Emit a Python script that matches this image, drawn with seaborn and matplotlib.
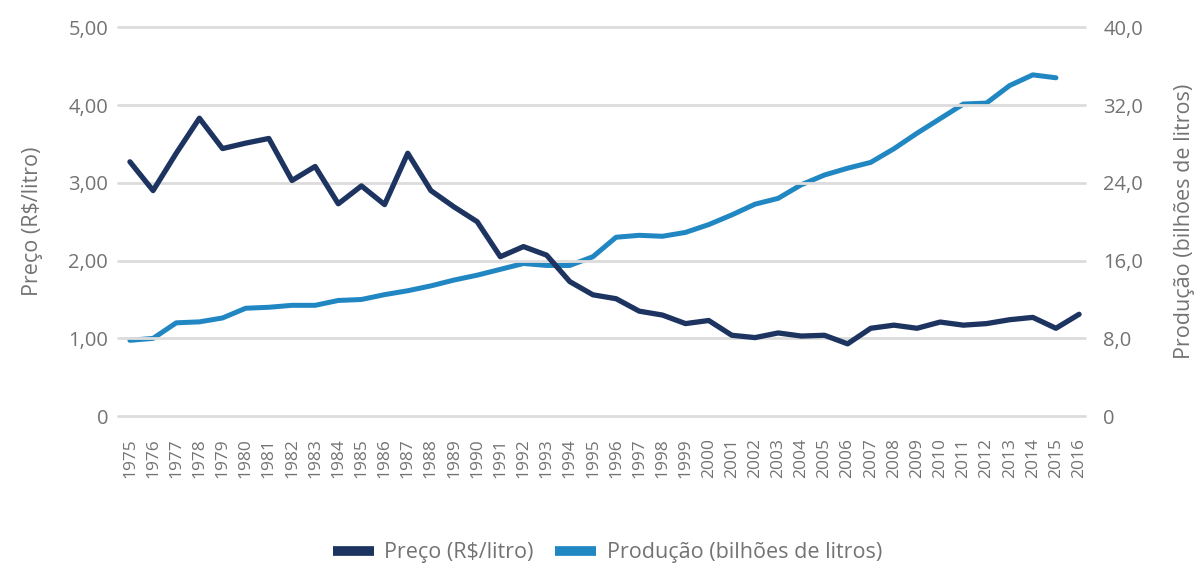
import matplotlib
matplotlib.use("Agg")
import matplotlib.pyplot as plt
from matplotlib.lines import Line2D
import seaborn as sns
import pandas as pd

# Ethanol: price (R$/litre) and production (billion litres), 1975-2016
years = list(range(1975, 2017))
preco = [3.27, 2.90, 3.38, 3.83, 3.44, 3.51, 3.57, 3.03, 3.21, 2.73,
         2.96, 2.72, 3.38, 2.90, 2.69, 2.50, 2.05, 2.18, 2.07, 1.73,
         1.56, 1.51, 1.35, 1.30, 1.19, 1.23, 1.04, 1.01, 1.07, 1.03,
         1.04, 0.93, 1.13, 1.17, 1.13, 1.21, 1.17, 1.19, 1.24, 1.27,
         1.13, 1.31]
producao = [7.8, 8.0, 9.6, 9.7, 10.1, 11.1, 11.2, 11.4, 11.4, 11.9,
            12.0, 12.5, 12.9, 13.4, 14.0, 14.5, 15.1, 15.7, 15.5, 15.5,
            16.4, 18.4, 18.6, 18.5, 18.9, 19.7, 20.7, 21.8, 22.4, 23.8,
            24.8, 25.5, 26.1, 27.5, 29.1, 30.6, 32.1, 32.2, 34.0, 35.1,
            34.8]
left_ticks = [0, 1, 2, 3, 4, 5]
left_labels = ["0", "1,00", "2,00", "3,00", "4,00", "5,00"]
right_ticks = [0, 8, 16, 24, 32, 40]
right_labels = ["0", "8,0", "16,0", "24,0", "32,0", "40,0"]

NAVY = "#1d3461"
BLUE = "#2187c2"
TEXT = "#737373"
GRID = "#dcdcdc"

sns.set_theme(style="white")
plt.rcParams["font.family"] = ["Open Sans", "DejaVu Sans"]

df_p = pd.DataFrame({"ano": years, "preco": preco})
df_q = pd.DataFrame({"ano": years[:len(producao)], "producao": producao})

fig = plt.figure(figsize=(12.03, 5.67), dpi=100)
ax = fig.add_axes([0.098, 0.266, 0.804, 0.686])
ax2 = ax.twinx()

for y in left_ticks:
    ax.axhline(y, color=GRID, lw=2, zorder=0, clip_on=False)

sns.lineplot(data=df_q, x="ano", y="producao", ax=ax2, color=BLUE, lw=3.6,
             solid_capstyle="round", solid_joinstyle="round", zorder=3,
             legend=False)
sns.lineplot(data=df_p, x="ano", y="preco", ax=ax, color=NAVY, lw=3.8,
             solid_capstyle="round", solid_joinstyle="round", zorder=4,
             legend=False)
ax.set_zorder(ax2.get_zorder() + 1)
ax.patch.set_visible(False)

ax.set_ylim(0, 5)
ax2.set_ylim(0, 40)
ax.set_xlim(1974.48, 2016.26)

ax.set_yticks(left_ticks)
ax.set_yticklabels(left_labels)
ax2.set_yticks(right_ticks)
ax2.set_yticklabels(right_labels)
ax.set_xticks(years)
ax.set_xticklabels([str(y) for y in years], rotation=90)

ax.tick_params(axis="y", length=0, pad=7, labelsize=14.5, labelcolor=TEXT)
ax2.tick_params(axis="y", length=0, pad=13, labelsize=14.5, labelcolor=TEXT)
ax.tick_params(axis="x", length=0, pad=16, labelsize=12.5, labelcolor=TEXT)

ax.set_xlabel("")
ax.set_ylabel("Preço (R$/litro)", fontsize=15.5, color=TEXT, labelpad=18)
ax2.set_ylabel("Produção (bilhões de litros)", fontsize=15.5, color=TEXT,
               labelpad=22, rotation=90)

for a in (ax, ax2):
    for s in a.spines.values():
        s.set_visible(False)
    a.grid(False)

handles = [Line2D([], [], color=NAVY, lw=7, solid_capstyle="butt"),
           Line2D([], [], color=BLUE, lw=7, solid_capstyle="butt")]
fig.legend(handles, ["Preço (R$/litro)", "Produção (bilhões de litros)"],
           loc="center", bbox_to_anchor=(0.505, 0.025), ncol=2, frameon=False,
           fontsize=15.5, labelcolor=TEXT, handlelength=1.9, handletextpad=0.5,
           columnspacing=1.0)

fig.savefig("out.png", dpi=100, facecolor="white")
